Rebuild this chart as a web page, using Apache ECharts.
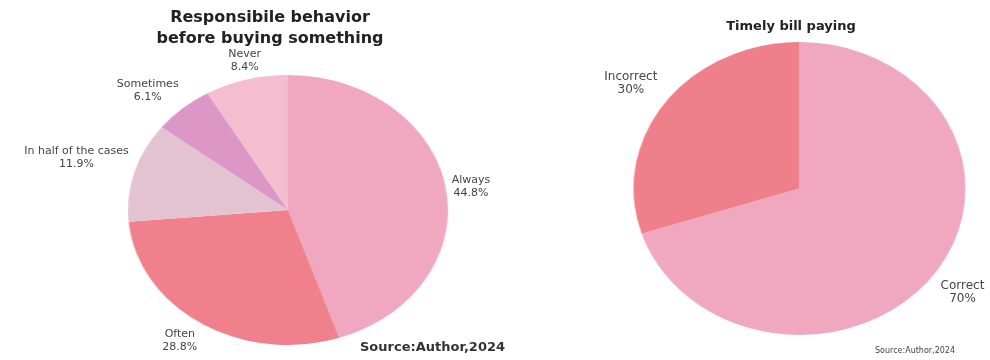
<!DOCTYPE html>
<html>
<head>
<meta charset="utf-8">
<script src="https://cdn.jsdelivr.net/npm/echarts@6/dist/echarts.min.js"></script>
<style>
  html, body { margin: 0; padding: 0; background: #ffffff; }
  #stage { position: relative; width: 990px; height: 360px; overflow: hidden; }
  #stage > div { position: absolute; }
</style>
</head>
<body>
<div id="stage"></div>
<script>
// ---- data ----
const buyTitle = 'Responsibile behavior\nbefore buying something';
const buyCategories = ['Always', 'Often', 'In half of the cases', 'Sometimes', 'Never'];
const buyValues = [44.8, 28.8, 11.9, 6.1, 8.4];
const buyColors = ['#efa8bf', '#ef808c', '#e3c3d1', '#dc97c6', '#f5bdd0'];

const billTitle = 'Timely bill paying';
const billCategories = ['Correct', 'Incorrect'];
const billValues = [70, 30];
const billColors = ['#efa8bf', '#ef808b'];

const sourceText = 'Source:Author,2024';

// ---- layout: each pie is an ellipse (cx, cy, horizontal / vertical radius) ----
const FONT = '"DejaVu Sans", sans-serif';
const geoBuy = { cx: 288, cy: 210, rx: 160, ry: 135, labelSize: 11, lineH: 13, gap: 6 };
const geoBill = { cx: 799, cy: 188, rx: 166, ry: 146.5, labelSize: 12, lineH: 13, gap: 9 };

const stage = document.getElementById('stage');

function makeDiv(left, topPx, w, h, extra) {
  const d = document.createElement('div');
  d.style.left = left + 'px';
  d.style.top = topPx + 'px';
  d.style.width = w + 'px';
  d.style.height = h + 'px';
  if (extra) Object.assign(d.style, extra);
  stage.appendChild(d);
  return d;
}

function pieData(names, values, colors) {
  return names.map((n, i) => ({ name: n, value: values[i], itemStyle: { color: colors ? colors[i] : 'rgba(0,0,0,0)' } }));
}

// Draws the coloured pie in its own box, stretched horizontally into an ellipse.
function drawEllipsePie(geo, names, values, colors) {
  const size = Math.ceil(geo.ry * 2 + 4);
  const div = makeDiv(geo.cx - size / 2, geo.cy - size / 2, size, size, {
    transform: 'scaleX(' + (geo.rx / geo.ry) + ')',
    transformOrigin: '50% 50%'
  });
  const chart = echarts.init(div, null, { renderer: 'canvas' });
  chart.setOption({
    animation: false,
    series: [{
      type: 'pie',
      silent: true,
      center: ['50%', '50%'],
      radius: geo.ry,
      startAngle: 90,
      clockwise: true,
      label: { show: false },
      labelLine: { show: false },
      itemStyle: { borderWidth: 0 },
      data: pieData(names, values, colors)
    }]
  });
}

drawEllipsePie(geoBuy, buyCategories, buyValues, buyColors);
drawEllipsePie(geoBill, billCategories, billValues, billColors);

// ---- labels and titles in a full-size layer on top ----
function midAngles(values) {
  const total = values.reduce((a, b) => a + b, 0);
  let acc = 0;
  return values.map(v => {
    const m = (acc + v / 2) / total * 2 * Math.PI;
    acc += v;
    return m;
  });
}

// Places each slice label just outside the ellipse, along the slice's mid direction.
function ellipseLabelLayout(geo, values) {
  const mids = midAngles(values);
  return function (params) {
    const a = mids[params.dataIndex];
    const s = Math.sin(a), c = Math.cos(a);
    return {
      x: geo.cx + (geo.rx + geo.gap) * s,
      y: geo.cy - (geo.ry + geo.gap) * c,
      align: s > 0.3 ? 'left' : (s < -0.3 ? 'right' : 'center'),
      verticalAlign: c > 0.25 ? 'bottom' : (c < -0.25 ? 'top' : 'middle')
    };
  };
}

function labelSeries(geo, names, values) {
  return {
    type: 'pie',
    silent: true,
    center: [geo.cx, geo.cy],
    radius: geo.ry,
    startAngle: 90,
    clockwise: true,
    avoidLabelOverlap: false,
    itemStyle: { borderWidth: 0 },
    labelLine: { show: false },
    label: {
      show: true,
      position: 'outside',
      formatter: p => '{t|' + p.name + '}\n{t|' + p.value + '%}',
      rich: {
        t: { align: 'center', fontSize: geo.labelSize, lineHeight: geo.lineH, color: '#454545', fontFamily: FONT }
      }
    },
    labelLayout: ellipseLabelLayout(geo, values),
    data: pieData(names, values, null)
  };
}

const overlay = makeDiv(0, 0, 990, 360);
const overlayChart = echarts.init(overlay, null, { renderer: 'canvas' });
overlayChart.setOption({
  animation: false,
  title: [
    {
      text: buyTitle, left: 265, top: 2, textAlign: 'center',
      textStyle: { fontSize: 16, fontWeight: 'bold', color: '#222222', lineHeight: 21, fontFamily: FONT }
    },
    {
      text: billTitle, left: 786, top: 15, textAlign: 'center',
      textStyle: { fontSize: 13, fontWeight: 'bold', color: '#222222', fontFamily: FONT }
    }
  ],
  graphic: [
    {
      type: 'text', left: 360, top: 341,
      style: { text: sourceText, fill: '#333333', font: 'bold 13px ' + FONT }
    },
    {
      type: 'text', left: 875, top: 347,
      style: { text: sourceText, fill: '#444444', font: '8px ' + FONT }
    }
  ],
  series: [
    labelSeries(geoBuy, buyCategories, buyValues),
    labelSeries(geoBill, billCategories, billValues)
  ]
});
</script>
</body>
</html>
